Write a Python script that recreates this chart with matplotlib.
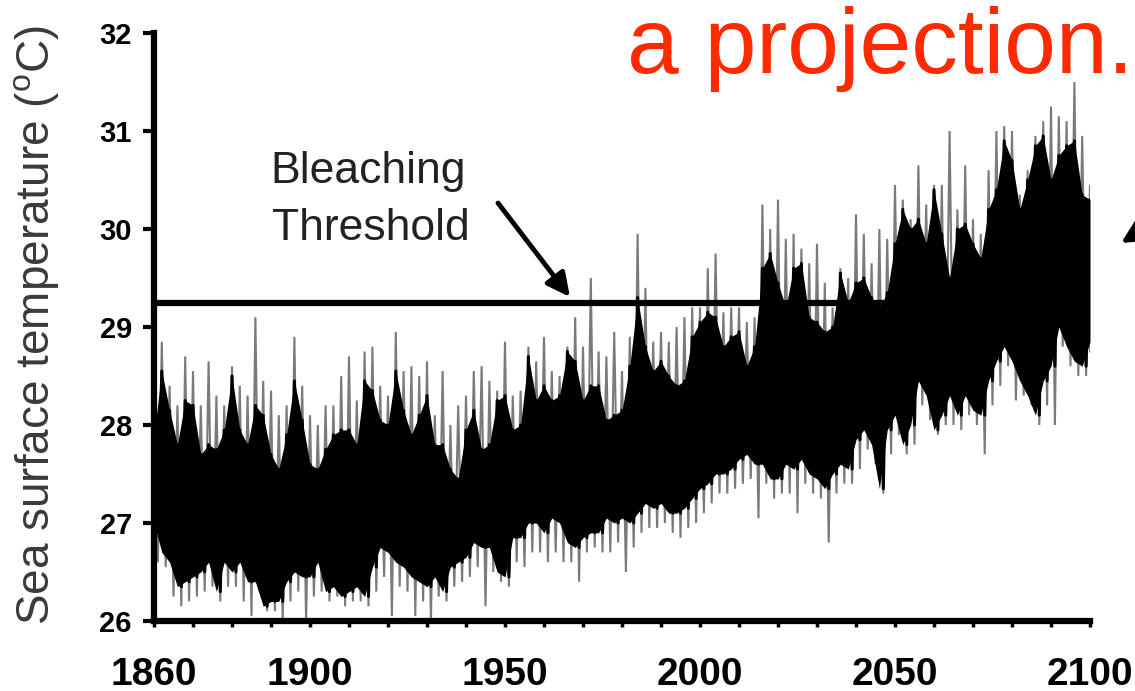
import numpy as np
import matplotlib
matplotlib.use("Agg")
import matplotlib.pyplot as plt

plt.rcParams['font.family'] = ['Liberation Sans', 'DejaVu Sans']
plt.rcParams['mathtext.fontset'] = 'custom'
plt.rcParams['mathtext.rm'] = 'Liberation Sans'

# ---- data (2-year bins) ----
years = list(range(1860, 2101, 2))

core_hi = [27.9, 28.55, 28.15, 27.8, 28.25, 28.2, 27.7, 27.8, 27.75, 27.95,
           28.5, 27.95, 27.8, 28.2, 28.1, 27.7, 27.55, 27.9, 28.45, 28.05,
           27.6, 27.55, 27.75, 27.9, 27.95, 27.95, 27.8, 28.45, 28.35, 28.05,
           28.0, 28.55, 28.15, 27.9, 28.1, 28.3, 27.8, 27.8, 27.55, 27.45,
           27.95, 28.15, 27.75, 27.8, 28.25, 28.3, 27.95, 28.0, 28.7, 28.25,
           28.4, 28.25, 28.3, 28.75, 28.65, 28.25, 28.4, 28.4, 28.05, 28.1,
           28.15, 28.6, 29.3, 28.8, 28.55, 28.65, 28.5, 28.4, 28.45, 28.9,
           29.05, 29.15, 29.1, 28.8, 28.9, 28.95, 28.6, 28.8, 29.6, 29.75,
           29.45, 29.2, 29.6, 29.65, 29.1, 29.05, 28.95, 29.0, 29.55, 29.25,
           29.45, 29.5, 29.3, 29.2, 29.35, 29.85, 30.2, 30.0, 30.1, 29.85,
           30.4, 29.95, 29.5, 30.0, 30.05, 29.85, 29.7, 30.2, 30.4, 30.9,
           30.7, 30.2, 30.5, 30.85, 30.95, 30.5, 30.75, 30.85, 30.9, 30.35,
           30.3]

core_lo = [27.0, 26.7, 26.6, 26.35, 26.4, 26.45, 26.5, 26.6, 26.3, 26.6,
           26.5, 26.6, 26.4, 26.4, 26.15, 26.2, 26.2, 26.4, 26.5, 26.45,
           26.45, 26.6, 26.3, 26.35, 26.25, 26.3, 26.35, 26.25, 26.55, 26.75,
           26.7, 26.6, 26.55, 26.45, 26.4, 26.35, 26.45, 26.3, 26.55, 26.6,
           26.65, 26.8, 26.75, 26.75, 26.5, 26.45, 26.85, 26.85, 27.0, 27.0,
           26.9, 27.05, 27.0, 26.8, 26.75, 26.85, 26.9, 26.9, 27.05, 27.0,
           27.05, 27.0, 27.1, 27.2, 27.15, 27.2, 27.1, 27.1, 27.15, 27.25,
           27.35, 27.4, 27.5, 27.5, 27.55, 27.65, 27.7, 27.6, 27.6, 27.45,
           27.45, 27.6, 27.55, 27.65, 27.5, 27.45, 27.35, 27.5, 27.6, 27.55,
           27.85, 27.95, 27.8, 27.35, 27.95, 28.1, 27.8, 28.0, 28.45, 28.3,
           27.95, 28.1, 28.3, 28.1, 28.3, 28.15, 28.1, 28.45, 28.65, 28.8,
           28.65, 28.45, 28.3, 28.1, 28.45, 28.6, 29.0, 28.8, 28.65, 28.6,
           28.85]

spike_hi = [28.3, 28.85, 28.4, 28.2, 28.7, 28.55, 28.2, 28.65, 28.3, 28.2,
            28.6, 28.4, 28.3, 29.1, 28.45, 28.35, 28.1, 28.2, 28.9, 28.4,
            28.1, 28.0, 28.2, 28.2, 28.5, 28.7, 28.25, 28.75, 28.8, 28.4,
            28.3, 28.95, 28.55, 28.6, 28.5, 28.65, 28.1, 28.55, 28.0, 28.2,
            28.3, 28.55, 28.6, 28.45, 28.35, 28.85, 28.3, 28.35, 28.8, 28.65,
            28.9, 28.55, 28.5, 28.8, 29.1, 28.8, 29.5, 28.75, 28.7, 28.95,
            28.55, 28.9, 29.95, 29.4, 28.85, 28.95, 28.85, 29.0, 29.1, 29.2,
            29.2, 29.6, 29.75, 29.15, 29.2, 29.2, 29.05, 29.1, 30.25, 30.0,
            30.3, 29.9, 29.95, 29.8, 29.65, 29.85, 29.45, 29.2, 29.6, 29.5,
            30.15, 29.95, 29.65, 30.0, 29.9, 30.45, 30.3, 30.1, 30.65, 30.25,
            30.45, 30.45, 31.0, 30.2, 30.65, 30.1, 29.95, 30.6, 31.0, 31.05,
            31.0, 30.35, 30.6, 30.95, 31.1, 31.25, 31.15, 31.1, 31.5, 30.95,
            30.45]

spike_lo = [26.6, 26.55, 26.25, 26.15, 26.2, 26.25, 26.3, 26.35, 26.2, 26.35,
            26.35, 26.2, 26.05, 26.3, 26.1, 26.1, 26.0, 26.2, 26.3, 26.0,
            26.25, 26.3, 26.2, 26.25, 26.15, 26.2, 26.2, 26.15, 26.3, 26.45,
            26.05, 26.35, 26.3, 26.05, 26.2, 26.0, 26.25, 26.2, 26.35, 26.4,
            26.45, 26.55, 26.15, 26.5, 26.4, 26.35, 26.6, 26.55, 26.7, 26.7,
            26.6, 26.7, 26.6, 26.6, 26.4, 26.7, 26.75, 26.7, 26.7, 26.8,
            26.5, 26.75, 26.9, 26.95, 26.95, 27.0, 26.9, 26.85, 26.95, 27.0,
            27.1, 27.2, 27.3, 27.3, 27.35, 27.4, 27.45, 27.05, 27.4, 27.25,
            27.3, 27.3, 27.1, 27.4, 27.3, 27.25, 26.8, 27.3, 27.4, 27.4,
            27.55, 27.75, 27.6, 27.3, 27.7, 27.9, 27.7, 27.8, 28.2, 28.05,
            27.9, 28.0, 28.0, 27.95, 28.1, 28.0, 27.7, 28.2, 28.4, 28.6,
            28.25, 28.3, 28.2, 28.0, 28.2, 28.0, 28.8, 28.6, 28.5, 28.5,
            28.75]

threshold = 29.25
y_ticks = [26, 27, 28, 29, 30, 31, 32]
x_labeled = [1860, 1900, 1950, 2000, 2050, 2100]
x_minor = list(range(1860, 2101, 10))


def zigzag(xs, hi, lo):
    """Alternate hi (at year) and lo (one year later) to mimic the dense monthly trace."""
    px, py = [], []
    for x, h, l in zip(xs, hi, lo):
        px += [x, min(x + 1, 2100)]
        py += [h, l]
    return px, py


# ---- figure ----
W, H = 1135, 691
fig = plt.figure(figsize=(W / 100, H / 100), dpi=100)
ax = fig.add_axes([154 / W, 1 - 621 / H, (1090 - 154) / W, (621 - 33) / H])

gx, gy = zigzag(years, spike_hi, spike_lo)
ax.plot(gx, gy, color='#7a7a7a', lw=1.5, zorder=1, solid_joinstyle='miter')
ax.fill_between(years, core_lo, core_hi, color='black', lw=0, zorder=2)
bx, by = zigzag(years, core_hi, core_lo)
ax.plot(bx, by, color='black', lw=2.2, zorder=2)
ax.hlines(threshold, 1860, 2100, color='black', lw=4.5, zorder=3)

ax.set_xlim(1860, 2100)
ax.set_ylim(26, 32)

for s in ['top', 'right']:
    ax.spines[s].set_visible(False)
for s in ['left', 'bottom']:
    ax.spines[s].set_linewidth(4.5)
    ax.spines[s].set_capstyle('projecting')
    ax.spines[s].set_zorder(4)

ax.set_yticks(y_ticks)
ax.set_yticklabels([str(v) for v in y_ticks], fontsize=21, fontweight='bold')
ax.tick_params(axis='y', direction='out', length=8, width=3, pad=8)

ax.set_xticks(x_labeled)
ax.set_xticklabels([str(v) for v in x_labeled], fontsize=28, fontweight='bold')
ax.set_xticks(x_minor, minor=True)
ax.tick_params(axis='x', which='both', direction='out', length=4, width=2.5, pad=22)

# y label
fig.text(37 / W, 1 - 325 / H, r"Sea surface temperature ($^{\rm o}$C)",
         rotation=90, ha='center', va='center', fontsize=33, color='#3a3a3a')

# annotation text
fig.text(270 / W, 1 - 183 / H, "Bleaching", fontsize=32, color='#222222',
         va='baseline', ha='left')
fig.text(272 / W, 1 - 240 / H, "Threshold", fontsize=32, color='#222222',
         va='baseline', ha='left')
ax.annotate('', xy=(570 / W, 1 - 297 / H), xytext=(498 / W, 1 - 203 / H),
            xycoords='figure fraction', textcoords='figure fraction',
            arrowprops=dict(arrowstyle='-|>', lw=3.5, color='black',
                            mutation_scale=35, shrinkA=0, shrinkB=0))

# red title
fig.text(627 / W, 1 - 73 / H, "a projection.", fontsize=67, color='#ff2a00',
         va='baseline', ha='left')

# cut-off arrow at right edge
ax.annotate('', xy=(1121 / W, 1 - 243 / H), xytext=(1.12, 0.78),
            xycoords='figure fraction', textcoords='figure fraction',
            annotation_clip=False,
            arrowprops=dict(arrowstyle='-|>', lw=3.5, color='black',
                            mutation_scale=40, shrinkA=0, shrinkB=0))

fig.savefig("out.png", dpi=100)
